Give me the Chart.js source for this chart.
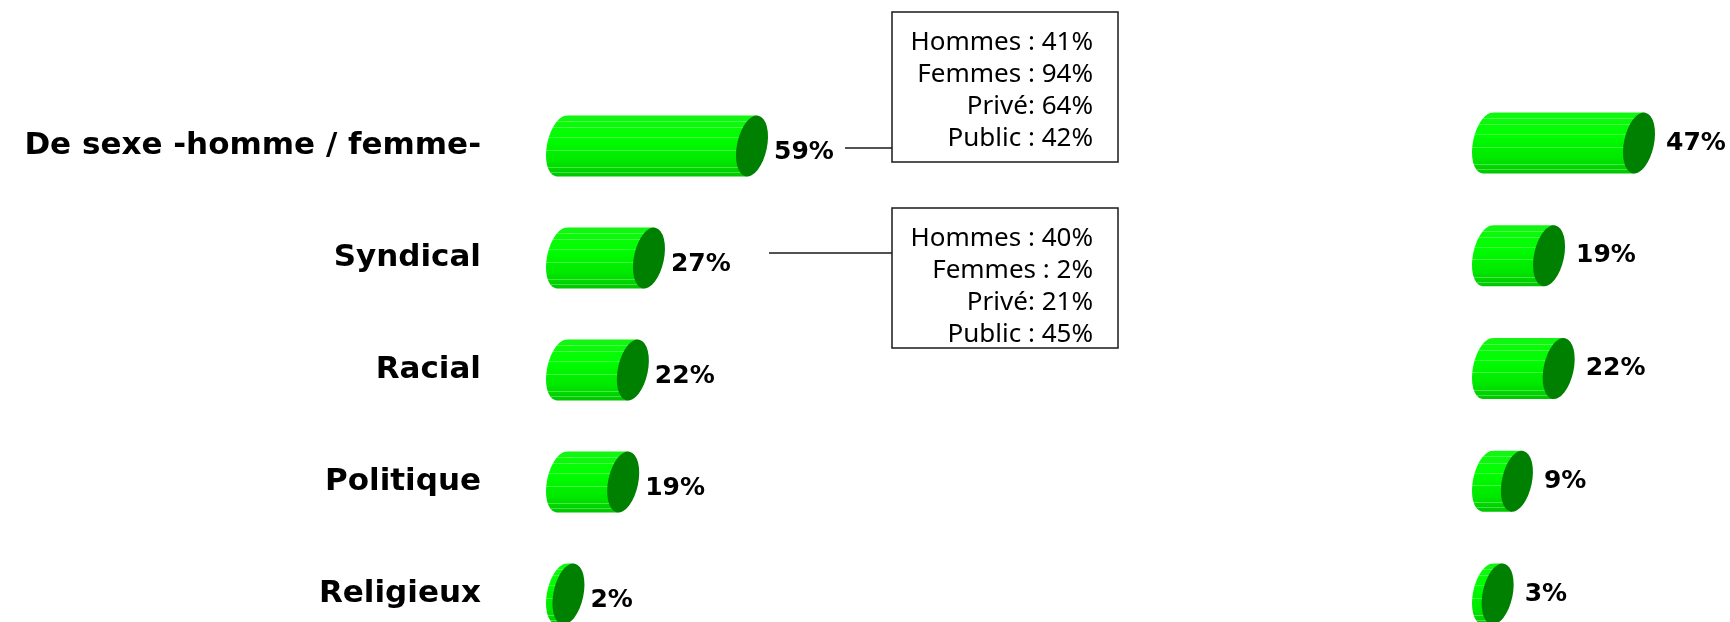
<!DOCTYPE html>
<html>
<head>
<meta charset="utf-8">
<script src="https://cdn.jsdelivr.net/npm/chart.js@4.4.1/dist/chart.umd.min.js"></script>
<style>
    html, body { margin: 0; padding: 0; background: #fff; }
    #wrap { position: relative; width: 1730px; height: 622px; overflow: hidden; }
    #chartGauche { position: absolute; left: 0; top: 0; }
    #chartDroite { position: absolute; left: 1440px; top: 0; }
</style>
</head>
<body>
<div id="wrap">
    <canvas id="chartGauche" width="1130" height="622"></canvas>
    <canvas id="chartDroite" width="290" height="622"></canvas>
</div>
<script>
// Données
const categories = ["De sexe -homme / femme-", "Syndical", "Racial", "Politique", "Religieux"];
const valeursGauche = [59, 27, 22, 19, 2];
const valeursDroite = [47, 19, 22, 9, 3];
const detailSexe = ["Hommes : 41%", "Femmes : 94%", "Privé: 64%", "Public : 42%"];
const detailSyndical = ["Hommes : 40%", "Femmes : 2%", "Privé: 21%", "Public : 45%"];

// Cylindres verts dessinés à partir des barres
const cylindres = {
    id: 'cylindres',
    afterDatasetsDraw(chart, args, opts) {
        const ctx = chart.ctx;
        const rx = 15, th = 12 * Math.PI / 180;
        chart.getDatasetMeta(0).data.forEach((bar, i) => {
            const cy = bar.y, h = bar.height, ry = h / 2;
            const cxB = bar.base + rx, cxF = bar.x + rx;
            const dx = 4.8;
            const top = cy - ry + 0.5, bot = cy + ry - 0.5;

            ctx.save();
            // corps
            ctx.beginPath();
            ctx.ellipse(cxB, cy, rx, ry, th, 0, Math.PI * 2);
            ctx.moveTo(cxB + dx, top);
            ctx.lineTo(cxF + dx, top);
            ctx.lineTo(cxF - dx, bot);
            ctx.lineTo(cxB - dx, bot);
            ctx.closePath();
            const g = ctx.createLinearGradient(0, cy - ry, 0, cy + ry);
            g.addColorStop(0, '#14f514');
            g.addColorStop(0.35, '#00ff00');
            g.addColorStop(0.75, '#00e800');
            g.addColorStop(1, '#00c400');
            ctx.fillStyle = g;
            ctx.fill('nonzero');
            ctx.clip();
            // rayures claires
            ctx.strokeStyle = 'rgba(200,255,200,0.35)';
            ctx.lineWidth = 1;
            [0.1, 0.2, 0.36, 0.56, 0.84, 0.92].forEach(f => {
                const y = Math.round(cy - ry + f * h) + 0.5;
                ctx.beginPath();
                ctx.moveTo(bar.base - 5, y);
                ctx.lineTo(cxF + rx + 5, y);
                ctx.stroke();
            });
            ctx.restore();

            // face avant
            ctx.beginPath();
            ctx.ellipse(cxF, cy, rx, ry, th, 0, Math.PI * 2);
            ctx.fillStyle = '#008000';
            ctx.fill();

            // étiquette
            ctx.fillStyle = '#000';
            ctx.font = 'bold 25px "DejaVu Sans"';
            ctx.textAlign = 'left';
            ctx.textBaseline = 'middle';
            const v = chart.data.datasets[0].data[i];
            ctx.fillText(v + '%', cxF + rx + opts.ecart, cy + opts.decalY);
        });
    }
};

// Encadrés de détail (graphique de gauche)
const encadres = {
    id: 'encadres',
    afterDraw(chart) {
        const ctx = chart.ctx;
        const boites = [
            { x: 892, y: 12, w: 226, h: 150, lignes: detailSexe, lx: 845, ly: 148 },
            { x: 892, y: 208, w: 226, h: 140, lignes: detailSyndical, lx: 769, ly: 253 }
        ];
        ctx.save();
        boites.forEach(b => {
            ctx.strokeStyle = '#1a1a1a';
            ctx.lineWidth = 1.5;
            ctx.strokeRect(b.x, b.y, b.w, b.h);
            ctx.beginPath();
            ctx.moveTo(b.lx, b.ly);
            ctx.lineTo(b.x, b.ly);
            ctx.stroke();
            ctx.fillStyle = '#000';
            ctx.font = '26px "Noto Sans"';
            ctx.textAlign = 'right';
            ctx.textBaseline = 'alphabetic';
            b.lignes.forEach((t, i) => {
                ctx.fillText(t, b.x + b.w - 25, b.y + 38 + i * 32);
            });
        });
        ctx.restore();
    }
};

const optionsBase = (maxX, afficherY, padding, ecart, decalY) => ({
    responsive: false,
    animation: false,
    indexAxis: 'y',
    layout: { padding: padding },
    plugins: {
        legend: { display: false },
        tooltip: { enabled: false },
        cylindres: { ecart: ecart, decalY: decalY }
    },
    scales: {
        x: { display: false, min: 0, max: maxX },
        y: {
            display: afficherY,
            offset: false,
            grid: { display: false, drawTicks: false },
            border: { display: false },
            ticks: {
                color: '#000',
                padding: 66,
                font: { family: 'DejaVu Sans', size: 31, weight: 'bold' }
            },
            afterFit: (scale) => {
                if (afficherY) {
                    scale.width = 547;
                    scale.paddingTop = 0;
                    scale.paddingBottom = 0;
                }
            }
        }
    }
});

new Chart(document.getElementById('chartGauche'), {
    type: 'bar',
    data: {
        labels: categories,
        datasets: [{
            data: valeursGauche,
            backgroundColor: 'rgba(0,0,0,0)',
            barThickness: 62
        }]
    },
    options: optionsBase(100, true, { left: 0, right: 261, top: 146, bottom: 28 }, 7, 6),
    plugins: [cylindres, encadres]
});

new Chart(document.getElementById('chartDroite'), {
    type: 'bar',
    data: {
        labels: categories,
        datasets: [{
            data: valeursDroite,
            backgroundColor: 'rgba(0,0,0,0)',
            barThickness: 62
        }]
    },
    options: optionsBase(80, false, { left: 33, right: 0, top: 143, bottom: 28 }, 12, 0),
    plugins: [cylindres]
});
</script>
</body>
</html>
